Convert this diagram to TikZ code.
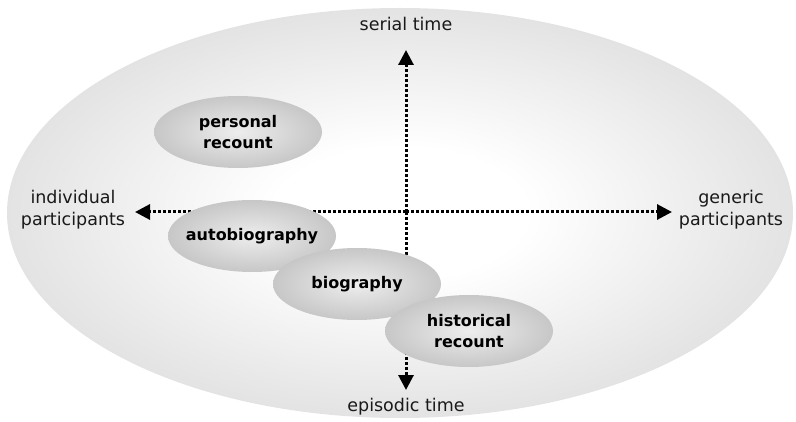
\documentclass[tikz,border=0pt]{standalone}
\usepackage{fontspec}
\setmainfont{DejaVu Sans}
\usetikzlibrary{arrows.meta}
\usetikzlibrary{shapes.geometric}

\pgfdeclareradialshading{bigglow}{\pgfpoint{0bp}{0bp}}{%
  color(0bp)=(white); color(8bp)=(white); color(50bp)=(black!27)}
\pgfdeclareradialshading{smallglow}{\pgfpoint{0bp}{0bp}}{%
  color(0bp)=(black!7); color(50bp)=(black!37)}

\begin{document}
\begin{tikzpicture}[x=1pt,y=-1pt,
  genre/.style={ellipse, minimum width=168pt, minimum height=72pt,
    inner xsep=-8pt, inner ysep=0pt,
    shading=smallglow, font=\bfseries\fontsize{16}{21}\selectfont, align=center},
  axis/.style={line width=3pt, dash pattern=on 3pt off 2pt,
    -{Triangle[length=15pt,width=15pt]}},
  axislabel/.style={font=\fontsize{17.5}{22}\selectfont, align=center, text=black!90}]
\useasboundingbox (0,0) rectangle (796,422);
\shade[shading=bigglow]
  (400,213) ellipse [x radius=393pt, y radius=205pt];
\node[axislabel] (serial)     at (406,24)  {serial time};
\node[axislabel] (episodic)   at (406,407) {episodic time};
\node[axislabel] (individual) at (73,210)  {individual\\participants};
\node[axislabel] (generic)    at (731,210) {generic\\participants};
\coordinate (origin) at (406,212);
\coordinate (up)     at (406,50);
\coordinate (down)   at (406,390);
\coordinate (left)   at (135,212);
\coordinate (right)  at (672,212);
\draw[axis] (origin) -- (up);
\draw[axis] (origin) -- (down);
\draw[axis] (origin) -- (left);
\draw[axis] (origin) -- (right);
\node[genre] (personal)   at (238,132) {personal\\recount};
\node[genre] (autobio)    at (252,236) {autobiography};
\node[genre] (bio)        at (357,284) {biography};
\node[genre] (historical) at (469,331) {historical\\recount};
\end{tikzpicture}
\end{document}
